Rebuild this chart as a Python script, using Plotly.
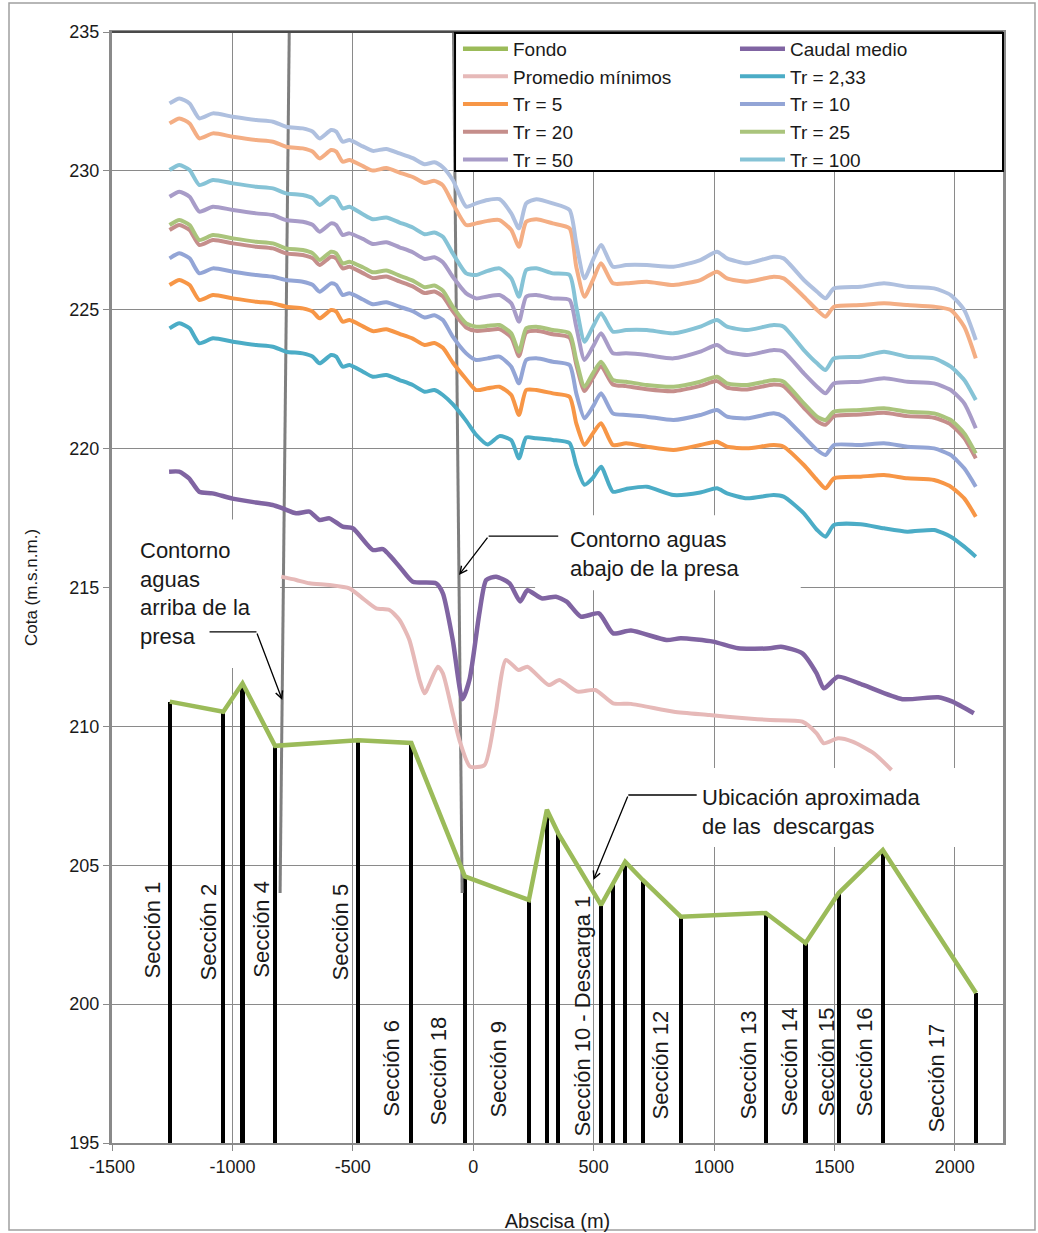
import plotly.graph_objects as go

# ---------------- data ----------------
COTA_BASE = 195.0

# cross-sections: abscissa (m) and bed level (m.s.n.m.)
SECCION_X = [-1260, -1038, -958, -823, -479, -257, -35, 231, 306, 353,
             531, 580, 631, 704, 862, 1215, 1380, 1518, 1701, 2088]
FONDO_COTA = [210.89, 210.53, 211.55, 209.30, 209.50, 209.40, 204.60, 203.75, 207.00, 206.15,
              203.57, 204.35, 205.13, 204.47, 203.15, 203.28, 202.20, 204.00, 205.55, 200.40]

# section names and where their labels sit (x, y)
SECCION_NOMBRE = ["Sección 1", "Sección 2", "Sección 4", "Sección 5", "Sección 6",
                  "Sección 18", "Sección 9", "Sección 10 - Descarga 1", "Sección 12",
                  "Sección 13", "Sección 14", "Sección 15", "Sección 16", "Sección 17"]
SECCION_ETIQUETA_XY = [(-1328, 202.67), (-1099, 202.60), (-879, 202.70), (-551, 202.60),
                       (-343, 197.70), (-144, 197.59), (105, 197.66), (454, 199.57),
                       (778, 197.81), (1143, 197.81), (1313, 197.92), (1467, 197.92),
                       (1625, 197.92), (1920, 197.34)]

# axis ticks
X_TICKS = [-1500, -1000, -500, 0, 500, 1000, 1500, 2000]
Y_TICKS = [195, 200, 205, 210, 215, 220, 225, 230, 235]

# mean discharge water surface
CAUDAL_X = [-1263, -1221, -1180, -1138, -1083, -999, -902, -833, -791, -735,
            -680, -638, -597, -542, -500, -417, -375, -306, -251, -154,
            -126, -85, -45, -15, 26, 54, 95, 151, 195, 225,
            284, 343, 388, 447, 522, 581, 655, 803, 862, 996,
            1100, 1233, 1278, 1367, 1426, 1456, 1515, 1619, 1782, 1931,
            1990, 2079]
CAUDAL_MEDIO = [219.17, 219.17, 218.93, 218.45, 218.39, 218.20, 218.06, 217.97, 217.85, 217.67,
                217.73, 217.43, 217.49, 217.19, 217.13, 216.35, 216.38, 215.75, 215.21, 215.15,
                214.79, 213.11, 210.98, 211.70, 214.10, 215.27, 215.39, 215.15, 214.50, 214.90,
                214.61, 214.67, 214.49, 213.95, 214.07, 213.35, 213.45, 213.11, 213.17, 213.05,
                212.81, 212.81, 212.87, 212.63, 211.91, 211.37, 211.79, 211.49, 210.98, 211.05,
                210.89, 210.47]

# average of minimum flows
MINIMOS_X = [-797, -735, -680, -597, -514, -459, -403, -348, -306, -265,
             -223, -202, -147, -126, -85, -57, -13, 47, 91, 136,
             188, 225, 314, 358, 433, 507, 581, 655, 833, 981,
             1129, 1233, 1367, 1426, 1456, 1515, 1575, 1664, 1737]
PROMEDIO_MINIMOS = [215.39, 215.27, 215.15, 215.09, 214.97, 214.61, 214.25, 214.19, 213.83, 213.11,
                    211.67, 211.19, 212.15, 211.91, 210.47, 209.50, 208.55, 208.61, 210.35, 212.39,
                    212.03, 212.15, 211.49, 211.67, 211.25, 211.31, 210.83, 210.81, 210.53, 210.41,
                    210.29, 210.23, 210.17, 209.75, 209.39, 209.57, 209.45, 209.03, 208.43]

# return-period water surfaces, shared abscissa
TR_X = [-1261, -1220, -1178, -1137, -1081, -998, -901, -832, -777, -708,
        -666, -638, -590, -569, -542, -514, -458, -417, -361, -306,
        -251, -202, -161, -126, -85, -29, 12, 60, 109, 158,
        190, 220, 262, 330, 400, 428, 462, 497, 531, 580,
        635, 721, 832, 943, 1012, 1054, 1137, 1248, 1289, 1373,
        1428, 1463, 1498, 1609, 1706, 1803, 1914, 1983, 2039, 2087]

TR_2_33 = [224.33, 224.51, 224.33, 223.79, 223.97, 223.85, 223.73, 223.67, 223.49, 223.43,
           223.31, 223.07, 223.37, 223.31, 222.95, 223.01, 222.77, 222.59, 222.65, 222.47,
           222.29, 222.05, 222.11, 221.93, 221.60, 221.00, 220.50, 220.15, 220.45, 220.30,
           219.65, 220.40, 220.37, 220.31, 220.20, 219.40, 218.70, 218.95, 219.35, 218.45,
           218.55, 218.63, 218.33, 218.42, 218.57, 218.39, 218.21, 218.33, 218.27, 217.67,
           217.07, 216.83, 217.25, 217.28, 217.13, 217.01, 217.07, 216.83, 216.47, 216.11]
TR_5 = [225.89, 226.07, 225.89, 225.35, 225.53, 225.41, 225.29, 225.23, 225.11, 225.05,
        224.93, 224.69, 224.99, 224.93, 224.57, 224.63, 224.40, 224.23, 224.30, 224.13,
        223.96, 223.73, 223.80, 223.63, 223.10, 222.50, 222.11, 222.17, 222.23, 221.93,
        221.21, 222.11, 222.11, 221.99, 221.87, 220.91, 220.13, 220.55, 220.91, 220.13,
        220.19, 220.07, 219.95, 220.13, 220.25, 220.07, 220.01, 220.13, 220.07, 219.41,
        218.87, 218.57, 218.93, 218.99, 219.05, 218.93, 218.87, 218.63, 218.21, 217.55]
TR_10 = [226.85, 227.03, 226.85, 226.31, 226.49, 226.37, 226.25, 226.19, 226.07, 226.01,
         225.89, 225.65, 225.95, 225.89, 225.53, 225.59, 225.37, 225.20, 225.27, 225.11,
         224.95, 224.72, 224.80, 224.63, 224.03, 223.43, 223.19, 223.25, 223.31, 222.95,
         222.35, 223.19, 223.25, 223.13, 223.01, 221.99, 221.09, 221.51, 221.99, 221.27,
         221.21, 221.15, 221.03, 221.21, 221.39, 221.15, 221.09, 221.27, 221.15, 220.43,
         219.95, 219.77, 220.13, 220.13, 220.19, 220.07, 220.01, 219.77, 219.29, 218.63]
TR_20 = [227.87, 228.05, 227.87, 227.33, 227.51, 227.39, 227.27, 227.21, 227.03, 226.97,
         226.85, 226.61, 226.91, 226.85, 226.49, 226.55, 226.32, 226.14, 226.20, 226.02,
         225.84, 225.60, 225.66, 225.48, 224.95, 224.36, 224.24, 224.27, 224.30, 224.00,
         223.33, 224.18, 224.24, 224.12, 224.00, 223.03, 222.07, 222.55, 222.97, 222.31,
         222.25, 222.14, 222.07, 222.26, 222.43, 222.20, 222.13, 222.31, 222.25, 221.47,
         220.99, 220.86, 221.17, 221.23, 221.29, 221.17, 221.11, 220.87, 220.38, 219.65]
TR_25 = [228.05, 228.23, 228.05, 227.51, 227.69, 227.57, 227.45, 227.39, 227.21, 227.15,
         227.03, 226.79, 227.09, 227.03, 226.67, 226.73, 226.53, 226.35, 226.41, 226.23,
         226.05, 225.81, 225.87, 225.69, 225.11, 224.51, 224.39, 224.42, 224.45, 224.15,
         223.49, 224.33, 224.39, 224.27, 224.15, 223.19, 222.23, 222.71, 223.13, 222.47,
         222.41, 222.29, 222.23, 222.41, 222.59, 222.35, 222.29, 222.47, 222.41, 221.63,
         221.15, 221.03, 221.33, 221.39, 221.45, 221.33, 221.27, 221.03, 220.55, 219.83]
TR_50 = [229.07, 229.25, 229.07, 228.53, 228.71, 228.59, 228.47, 228.41, 228.23, 228.17,
         228.05, 227.81, 228.11, 228.05, 227.69, 227.75, 227.55, 227.37, 227.43, 227.25,
         227.07, 226.83, 226.89, 226.71, 226.19, 225.59, 225.41, 225.48, 225.53, 225.23,
         224.57, 225.47, 225.53, 225.41, 225.35, 224.39, 223.19, 223.67, 224.15, 223.43,
         223.43, 223.37, 223.25, 223.49, 223.73, 223.49, 223.37, 223.55, 223.49, 222.71,
         222.23, 221.99, 222.35, 222.41, 222.53, 222.41, 222.35, 222.11, 221.63, 220.73]
TR_100 = [230.03, 230.21, 230.03, 229.49, 229.67, 229.55, 229.43, 229.37, 229.19, 229.13,
          229.01, 228.77, 229.07, 229.01, 228.65, 228.71, 228.44, 228.26, 228.32, 228.14,
          227.96, 227.72, 227.78, 227.63, 227.03, 226.31, 226.25, 226.40, 226.49, 226.13,
          225.47, 226.43, 226.49, 226.31, 226.25, 225.11, 223.85, 224.39, 224.87, 224.21,
          224.27, 224.27, 224.15, 224.39, 224.63, 224.39, 224.27, 224.45, 224.39, 223.55,
          223.07, 222.83, 223.25, 223.31, 223.49, 223.31, 223.25, 222.95, 222.47, 221.75]
# two higher flood profiles without a legend entry
NIVEL_SUP_1 = [231.71, 231.89, 231.71, 231.17, 231.35, 231.23, 231.11, 231.05, 230.87, 230.81,
               230.69, 230.45, 230.75, 230.69, 230.33, 230.39, 230.17, 230.01, 230.10, 229.94,
               229.78, 229.56, 229.64, 229.48, 228.83, 228.05, 228.11, 228.20, 228.23, 227.87,
               227.27, 228.17, 228.26, 228.11, 227.93, 226.55, 225.47, 226.07, 226.67, 225.95,
               225.95, 226.01, 225.89, 226.07, 226.37, 226.13, 226.01, 226.19, 226.13, 225.47,
               224.99, 224.75, 225.11, 225.17, 225.23, 225.17, 225.11, 224.99, 224.39, 223.25]
NIVEL_SUP_2 = [232.43, 232.61, 232.43, 231.89, 232.07, 231.95, 231.83, 231.77, 231.59, 231.53,
               231.41, 231.17, 231.47, 231.41, 231.05, 231.11, 230.88, 230.72, 230.79, 230.63,
               230.46, 230.24, 230.31, 230.13, 229.67, 228.71, 228.83, 228.95, 228.98, 228.47,
               227.93, 228.83, 228.98, 228.83, 228.59, 227.39, 226.13, 226.79, 227.33, 226.55,
               226.61, 226.61, 226.55, 226.79, 227.09, 226.85, 226.67, 226.91, 226.85, 226.07,
               225.65, 225.41, 225.77, 225.83, 225.95, 225.83, 225.77, 225.53, 224.99, 223.91]

# dam outline (upstream and downstream faces)
PRESA_ARRIBA_X = [-802, -764]
PRESA_ARRIBA_Y = [204.0, 235.0]
PRESA_ABAJO_X = [-46, -82]
PRESA_ABAJO_Y = [204.0, 235.0]

FONT = "Liberation Sans, Arial, Helvetica, sans-serif"
TXT = "#1a1a1a"

fig = go.Figure()

# section bars from the base up to the bed level
fig.add_trace(go.Bar(
    x=SECCION_X, y=[c - COTA_BASE for c in FONDO_COTA], base=COTA_BASE,
    width=17, marker=dict(color="black", line=dict(width=0)),
    showlegend=False, hoverinfo="skip"))

# dam faces
for xs, ys in ((PRESA_ARRIBA_X, PRESA_ARRIBA_Y), (PRESA_ABAJO_X, PRESA_ABAJO_Y)):
    fig.add_trace(go.Scatter(x=xs, y=ys, mode="lines",
                             line=dict(color="#7f7f7f", width=3),
                             showlegend=False, hoverinfo="skip"))


def perfil(x, y, name, color, legend=None, width=4, shape="spline"):
    line = dict(color=color, width=width, shape=shape)
    if shape == "spline":
        line["smoothing"] = 0.6
    fig.add_trace(go.Scatter(
        x=x, y=y, name=name, mode="lines", line=line,
        legend=legend, showlegend=legend is not None))


perfil(SECCION_X, FONDO_COTA, "Fondo", "#9BBB59", "legend", 4.5, "linear")
perfil(CAUDAL_X, CAUDAL_MEDIO, "Caudal medio", "#8064A2", "legend2", 4.5)
perfil(MINIMOS_X, PROMEDIO_MINIMOS, "Promedio mínimos", "#E6B9B8", "legend")
perfil(TR_X, TR_2_33, "Tr = 2,33", "#4BACC6", "legend2")
perfil(TR_X, TR_5, "Tr = 5", "#F79646", "legend")
perfil(TR_X, TR_10, "Tr = 10", "#93A5D6", "legend2")
perfil(TR_X, TR_20, "Tr = 20", "#C58E8B", "legend")
perfil(TR_X, TR_25, "Tr = 25", "#AAC47C", "legend2")
perfil(TR_X, TR_50, "Tr = 50", "#A89CC8", "legend")
perfil(TR_X, TR_100, "Tr = 100", "#86C3D6", "legend2")
perfil(TR_X, NIVEL_SUP_1, "Nivel superior 1", "#F4AE84")
perfil(TR_X, NIVEL_SUP_2, "Nivel superior 2", "#AFC0DF")

shapes = [
    # outer frame of the chart
    dict(type="rect", xref="paper", yref="paper", x0=-0.1156, x1=1.0359, y0=-0.0783, y1=1.026,
         line=dict(color="#a0a0a0", width=1.5), fillcolor="rgba(0,0,0,0)", layer="below"),
    # white text boxes hiding the grid
    dict(type="rect", xref="x", yref="y", x0=-1500, x1=-802, y0=212.1, y1=217.45,
         line=dict(width=0), fillcolor="white", layer="between"),
    dict(type="rect", xref="x", yref="y", x0=257, x1=1360, y0=214.9, y1=217.6,
         line=dict(width=0), fillcolor="white", layer="between"),
    dict(type="rect", xref="x", yref="y", x0=630, x1=2125, y0=205.66, y1=208.5,
         line=dict(width=0), fillcolor="white", layer="between"),
    # darker top edge of the plot area
    dict(type="line", xref="paper", yref="paper", x0=0, x1=1, y0=1, y1=1,
         line=dict(color="#4a4a4a", width=2), layer="above"),
    # legend frame
    dict(type="rect", xref="paper", yref="paper", x0=0.385, x1=1.0, y0=0.875, y1=0.999,
         line=dict(color="black", width=2), fillcolor="white", layer="above"),
    # callout leaders
    dict(type="line", xref="x", yref="y", x0=-1095, x1=-900, y0=213.4, y1=213.4,
         line=dict(color="black", width=1.3)),
    dict(type="line", xref="x", yref="y", x0=353, x1=64, y0=216.85, y1=216.85,
         line=dict(color="black", width=1.3)),
    dict(type="line", xref="x", yref="y", x0=928, x1=644, y0=207.53, y1=207.53,
         line=dict(color="black", width=1.3)),
]

annotations = []
# arrow tips of the callouts
for (xt, yt, xh, yh) in ((-900, 213.4, -793, 210.95),
                         (64, 216.85, -59, 215.45),
                         (644, 207.53, 499, 204.47)):
    annotations.append(dict(x=xh, y=yh, ax=xt, ay=yt, xref="x", yref="y", axref="x", ayref="y",
                            text="", showarrow=True, arrowhead=5, arrowsize=1.1,
                            arrowwidth=1.3, arrowcolor="black", standoff=0))

call_font = dict(family=FONT, size=22, color=TXT)
annotations += [
    dict(x=-1392, y=214.8, xref="x", yref="y", xanchor="left", yanchor="middle", align="left",
         text="Contorno<br>aguas<br>arriba de la<br>presa", showarrow=False, font=call_font),
    dict(x=393, y=216.21, xref="x", yref="y", xanchor="left", yanchor="middle", align="left",
         text="Contorno aguas<br>abajo de la presa", showarrow=False, font=call_font),
    dict(x=942, y=206.9, xref="x", yref="y", xanchor="left", yanchor="middle", align="left",
         text="Ubicación aproximada<br>de las  descargas", showarrow=False, font=call_font),
]

for nombre, (lx, ly) in zip(SECCION_NOMBRE, SECCION_ETIQUETA_XY):
    annotations.append(dict(x=lx, y=ly, xref="x", yref="y", text=nombre, textangle=-90,
                            xanchor="center", yanchor="middle", showarrow=False,
                            font=dict(family=FONT, size=22, color=TXT)))

axis_common = dict(showgrid=True, gridcolor="#8a8a8a", gridwidth=1.2, zeroline=False,
                   showline=True, linecolor="#8a8a8a", mirror=True, automargin=False,
                   ticks="outside", ticklen=6, tickcolor="#8a8a8a",
                   tickfont=dict(family=FONT, size=18, color=TXT))

legend_common = dict(xanchor="left", yanchor="top", bgcolor="rgba(0,0,0,0)", borderwidth=0,
                     font=dict(family=FONT, size=19, color=TXT),
                     itemwidth=45, tracegroupgap=0, traceorder="normal", orientation="v")

fig.update_layout(
    width=1038, height=1233,
    margin=dict(l=112, r=35, t=32, b=90),
    paper_bgcolor="white", plot_bgcolor="white",
    font=dict(family=FONT, size=18, color=TXT),
    barmode="overlay", bargap=0,
    xaxis=dict(range=[-1500, 2200], tickmode="array", tickvals=X_TICKS,
               ticktext=[str(v) for v in X_TICKS], linewidth=2,
               title=dict(text="Abscisa (m)", standoff=38,
                          font=dict(family=FONT, size=20, color=TXT)),
               **axis_common),
    yaxis=dict(range=[195, 235], tickmode="array", tickvals=Y_TICKS,
               ticktext=[str(v) for v in Y_TICKS], linewidth=3,
               title=dict(text="Cota (m.s.n.m.)", standoff=28,
                          font=dict(family=FONT, size=17, color=TXT)),
               **axis_common),
    legend=dict(x=0.3883, y=1.002, **legend_common),
    legend2=dict(x=0.6992, y=1.002, **legend_common),
    shapes=shapes,
    annotations=annotations,
    showlegend=True,
)

fig.write_html("out.html")
